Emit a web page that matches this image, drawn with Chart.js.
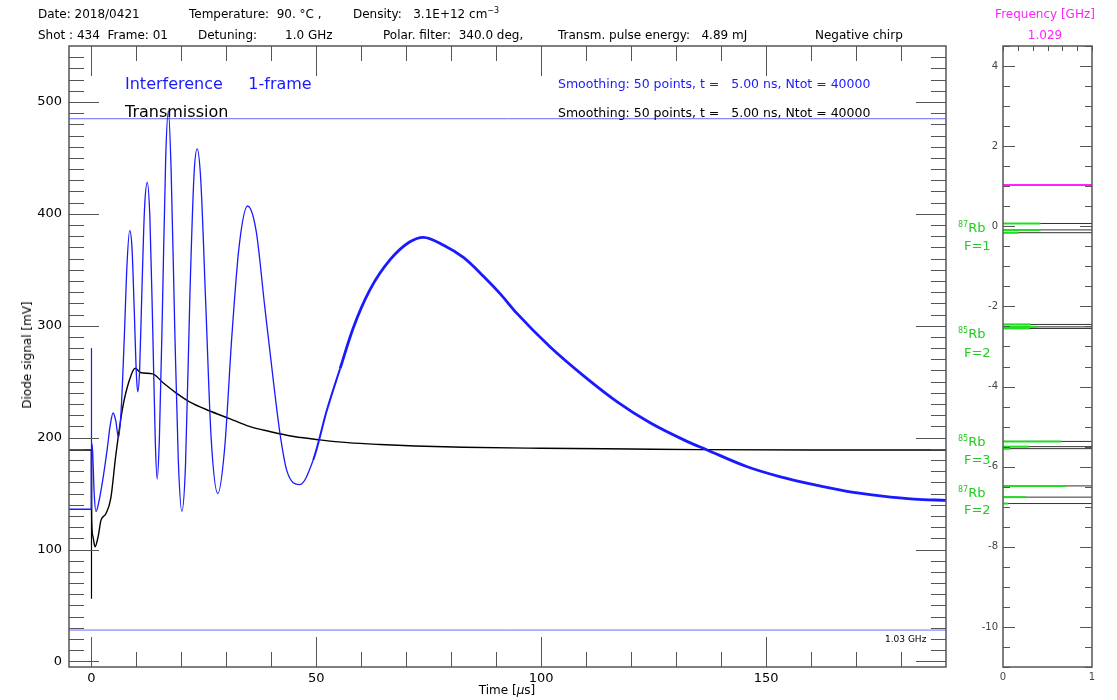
<!DOCTYPE html>
<html>
<head>
<meta charset="utf-8">
<script src="https://cdn.jsdelivr.net/npm/chart.js@4.4.0/dist/chart.umd.min.js"></script>
<style>
  body { margin: 0; background: #fff; font-family: 'DejaVu Sans', sans-serif; }
  #wrap { position: relative; width: 1117px; height: 700px; overflow: hidden; }
  canvas { position: absolute; top: 0; }
  .t { position: absolute; white-space: pre; font-size: 12px; line-height: 1; color: #000; transform: translateY(-50%); }
  .c { transform: translate(-50%, -50%); }
  .big { font-size: 16px; }
  .sm { font-size: 12.5px; }
  .blue { color: #1a1aff; }
  .mag { color: #ff22ff; }
  .grn { color: #22cc22; font-size: 13px; }
  sup { font-size: 8px; vertical-align: 5px; line-height: 0; }
</style>
</head>
<body>
<div id="wrap">
  <canvas id="main" width="960" height="700" style="left:0"></canvas>
  <canvas id="freq" width="177" height="700" style="left:940px"></canvas>

  <div class="t" style="left:38px;top:14px">Date: 2018/0421</div>
  <div class="t" style="left:189px;top:14px">Temperature:  90. °C ,</div>
  <div class="t" style="left:353px;top:14px">Density:   3.1E+12 cm<sup>−3</sup></div>
  <div class="t" style="left:38px;top:35px">Shot : 434  Frame: 01</div>
  <div class="t" style="left:198px;top:35px">Detuning:</div>
  <div class="t" style="left:285px;top:35px">1.0 GHz</div>
  <div class="t" style="left:383px;top:35px">Polar. filter:  340.0 deg,</div>
  <div class="t" style="left:558px;top:35px">Transm. pulse energy:   4.89 mJ</div>
  <div class="t" style="left:815px;top:35px">Negative chirp</div>
  <div class="t c mag" style="left:1045px;top:14px">Frequency [GHz]</div>
  <div class="t c mag" style="left:1045px;top:35px">1.029</div>

  <div class="t big blue" style="left:125px;top:84px">Interference     1-frame</div>
  <div class="t big" style="left:125px;top:112px">Transmission</div>
  <div class="t sm blue" style="left:558px;top:84px">Smoothing: 50 points, t =   5.00 ns, Ntot = 40000</div>
  <div class="t sm" style="left:558px;top:113px">Smoothing: 50 points, t =   5.00 ns, Ntot = 40000</div>
  <div class="t" style="left:885px;top:639px;font-size:9px">1.03 GHz</div>

  <div class="t c" style="left:27px;top:355px;transform:translate(-50%,-50%) rotate(-90deg)">Diode signal [mV]</div>
  <div class="t c" style="left:507px;top:690px">Time [<i>μ</i>s]</div>

  <div class="t grn" style="left:958px;top:227px"><sup>87</sup>Rb</div>
  <div class="t grn" style="left:964px;top:245px">F=1</div>
  <div class="t grn" style="left:958px;top:333px"><sup>85</sup>Rb</div>
  <div class="t grn" style="left:964px;top:352px">F=2</div>
  <div class="t grn" style="left:958px;top:441px"><sup>85</sup>Rb</div>
  <div class="t grn" style="left:964px;top:459px">F=3</div>
  <div class="t grn" style="left:958px;top:492px"><sup>87</sup>Rb</div>
  <div class="t grn" style="left:964px;top:509px">F=2</div>
</div>
<script>
// interference signal (blue), time in µs, signal in mV
const interferenceTime = [-5, -0.02, 0.02, 0.25, 0.6, 1.0, 1.6, 2.5, 3.5, 4.2, 4.8, 5.4, 6.0, 6.6, 7.3, 7.9, 8.5, 9.0, 9.5, 10.0,
  10.3, 10.7, 11.2, 11.8, 12.4, 13.0, 13.6, 14.2, 14.6, 15.1, 15.8, 16.5, 17.1, 17.7, 18.5, 19.3, 20.1, 20.9, 21.9, 22.8,
  23.5, 24.3, 25.4, 26.6, 28.1, 29.6, 31.2, 32.8, 34.7, 36.6, 38.5, 40.4, 41.9, 43.4, 46.3, 49.3, 52.3, 55.3, 58.2, 61.9,
  66.4, 70.8, 73.8, 78.3, 82.7, 87.2, 91, 94.6, 102, 109.5, 116.9, 124.3, 131.7, 136.9, 145.8, 153.2, 160.6, 168, 175.4, 182.9, 190];
const interferenceSignal = [136, 136, 195, 188, 150, 134, 142, 162, 190, 212, 222, 215, 200, 225, 290, 355, 385, 370, 315, 255,
  241, 260, 330, 405, 428, 395, 300, 195, 163, 200, 320, 450, 492, 440, 300, 180, 134, 175, 330, 435,
  458, 430, 320, 200, 150, 190, 290, 370, 407, 385, 318, 252, 204, 171, 158, 180, 224, 262, 298, 332,
  359, 375, 379, 372, 361, 344, 328, 311, 281, 255, 232, 213, 198, 189, 174, 165, 158, 152, 148, 145, 144];
const interferenceSpike = [136, 280];

// transmission signal (black)
const transmissionTime = [-5, -0.02, 0.03, 0.3, 0.8, 1.5, 2.1, 3.2, 4.3, 5.4, 6.9, 8.4, 9.7, 11, 13.6, 15.8, 18.8, 21.8, 26.2, 30.7,
  35.1, 39.6, 45, 50.8, 57, 64.2, 72, 82.7, 100, 120, 135, 160, 190];
const transmissionSignal = [189, 189, 130, 112, 102.5, 112, 126, 132, 146, 184, 226, 251, 262, 258, 257, 249.5, 240, 232, 224, 217,
  210, 205.5, 201, 198, 195.5, 193.8, 192.5, 191.4, 190.5, 189.8, 189.3, 189, 189];
const transmissionSpike = [56, 189];

// horizontal reference levels (mV)
const referenceLevels = [485, 28];

// right panel: Rb transition frequencies (GHz) and relative strengths
const rbLevels = [0.07, -0.09, -0.16, -2.45, -2.51, -2.55, -5.37, -5.50, -5.55, -6.48, -6.76, -6.92];
const rbStrength = [0.42, 0.42, 0.17, 0.31, 0.39, 0.30, 0.65, 0.29, 0.08, 0.71, 0.26, 0.06];
const laserFrequency = 1.029;

Chart.defaults.font.family = "'DejaVu Sans', sans-serif";

const pairs = (xs, ys) => xs.map((x, i) => ({ x, y: ys[i] }));
const range = (a, b, step) => { const out = []; for (let k = Math.round(a / step); k <= Math.round(b / step); k++) out.push(k * step); return out; };

// frame + inward pointing ticks (major / minor), like the IDL style plot
const frameTicks = {
  id: 'frameTicks',
  afterDatasetsDraw(chart, args, o) {
    const { ctx, chartArea: a } = chart;
    const xs = chart.scales.x, ys = chart.scales.y;
    ctx.save();
    ctx.strokeStyle = o.color;
    ctx.lineWidth = 1;
    ctx.beginPath();
    const line = (x1, y1, x2, y2) => { ctx.moveTo(x1, y1); ctx.lineTo(x2, y2); };
    xs.ticks.forEach(t => {
      const p = Math.round(xs.getPixelForValue(t.value)) + 0.5;
      const major = o.xMajor > 0 && Math.abs(t.value / o.xMajor - Math.round(t.value / o.xMajor)) < 1e-6;
      const len = major ? o.xLong : o.xShort;
      if (o.xBottom) line(p, a.bottom, p, a.bottom - len);
      if (o.xTop) line(p, a.top, p, a.top + len);
    });
    ys.ticks.forEach(t => {
      const p = Math.round(ys.getPixelForValue(t.value)) + 0.5;
      const major = Math.abs(t.value / o.yMajor - Math.round(t.value / o.yMajor)) < 1e-6;
      const len = major ? o.yLong : o.yShort;
      line(a.left, p, a.left + len, p);
      line(a.right, p, a.right - len, p);
    });
    ctx.stroke();
    ctx.lineWidth = 1.5;
    ctx.strokeRect(a.left, a.top, a.right - a.left, a.bottom - a.top);
    ctx.restore();
  }
};

const lineDefaults = { pointRadius: 0, fill: false, borderCapStyle: 'butt' };

// the interference trace carries a fast ripple after ~50 µs: shown as a thicker stroke
const rippleWidth = c => {
  const t = c.p0.parsed.x;
  return t < 47 ? 1.3 : t < 53 ? 2 : 2.8;
};

// note: chart.js draws lower `order` on top
new Chart(document.getElementById('main'), {
  type: 'line',
  data: {
    datasets: [
      ...referenceLevels.map(v => ({ ...lineDefaults, order: 5, data: [{ x: -5, y: v }, { x: 190, y: v }], borderColor: '#6a6aff', borderWidth: 1 })),
      { ...lineDefaults, order: 4, data: pairs([0, 0], transmissionSpike), borderColor: '#000', borderWidth: 1.2 },
      { ...lineDefaults, order: 3, data: pairs(transmissionTime, transmissionSignal), borderColor: '#000', borderWidth: 1.4, cubicInterpolationMode: 'monotone' },
      { ...lineDefaults, order: 2, data: pairs([0, 0], interferenceSpike), borderColor: '#1a1aff', borderWidth: 1.2 },
      {
        ...lineDefaults, order: 1, data: pairs(interferenceTime, interferenceSignal), borderColor: '#1a1aff', borderWidth: 1.3,
        cubicInterpolationMode: 'monotone',
        segment: { borderWidth: rippleWidth }
      }
    ]
  },
  options: {
    responsive: false,
    animation: false,
    events: [],
    layout: { padding: { top: 46, right: 14, bottom: 0, left: 0 } },
    plugins: {
      legend: { display: false },
      tooltip: { enabled: false },
      frameTicks: { color: '#555', xMajor: 50, xLong: 30, xShort: 15, xTop: true, xBottom: true, yMajor: 100, yLong: 30, yShort: 15 }
    },
    scales: {
      x: {
        type: 'linear', min: -5, max: 190,
        afterBuildTicks: s => { s.ticks = range(0, 180, 10).map(value => ({ value })); },
        afterFit: s => { s.height = 33; },
        grid: { display: false, drawTicks: false },
        border: { display: false },
        ticks: { padding: 4, autoSkip: false, maxRotation: 0, color: '#000', font: { size: 13 },
          callback: v => (v % 50 === 0 ? String(v) : '') }
      },
      y: {
        type: 'linear', min: -5, max: 550,
        afterBuildTicks: s => { s.ticks = range(0, 540, 10).map(value => ({ value })); },
        afterFit: s => { s.width = 69; },
        grid: { display: false, drawTicks: false },
        border: { display: false },
        ticks: { padding: 7, autoSkip: false, color: '#000', font: { size: 13 },
          callback: v => (v % 100 === 0 ? String(v) : '') }
      }
    }
  },
  plugins: [frameTicks]
});

new Chart(document.getElementById('freq'), {
  type: 'line',
  data: {
    datasets: [
      ...rbLevels.map(v => ({ ...lineDefaults, order: 3, data: [{ x: 0, y: v }, { x: 1, y: v }], borderColor: '#333', borderWidth: 1 })),
      ...rbLevels.map((v, i) => ({ ...lineDefaults, order: 2, data: [{ x: 0, y: v }, { x: rbStrength[i], y: v }], borderColor: '#22dd22', borderWidth: 2 })),
      { ...lineDefaults, order: 1, data: [{ x: 0, y: laserFrequency }, { x: 1, y: laserFrequency }], borderColor: '#ff22ff', borderWidth: 2 }
    ]
  },
  options: {
    responsive: false,
    animation: false,
    events: [],
    layout: { padding: { top: 46, right: 25, bottom: 0, left: 0 } },
    plugins: {
      legend: { display: false },
      tooltip: { enabled: false },
      frameTicks: { color: '#555', xMajor: 0, xLong: 5, xShort: 5, xTop: true, xBottom: false, yMajor: 2, yLong: 12, yShort: 7 }
    },
    scales: {
      x: {
        type: 'linear', min: 0, max: 1,
        afterBuildTicks: s => { s.ticks = range(0, 6, 1).map(k => ({ value: k / 6 })); },
        afterFit: s => { s.height = 33; },
        grid: { display: false, drawTicks: false },
        border: { display: false },
        ticks: { padding: 4, autoSkip: false, maxRotation: 0, color: '#444', font: { size: 10 },
          callback: (v, i) => (i === 0 ? '0' : i === 6 ? '1' : '') }
      },
      y: {
        type: 'linear', min: -11, max: 4.5,
        afterBuildTicks: s => { s.ticks = range(-11, 4.5, 0.5).map(value => ({ value })); },
        afterFit: s => { s.width = 63; },
        grid: { display: false, drawTicks: false },
        border: { display: false },
        ticks: { padding: 5, autoSkip: false, color: '#444', font: { size: 10 },
          callback: v => (v % 2 === 0 ? String(v) : '') }
      }
    }
  },
  plugins: [frameTicks]
});
</script>
</body>
</html>
